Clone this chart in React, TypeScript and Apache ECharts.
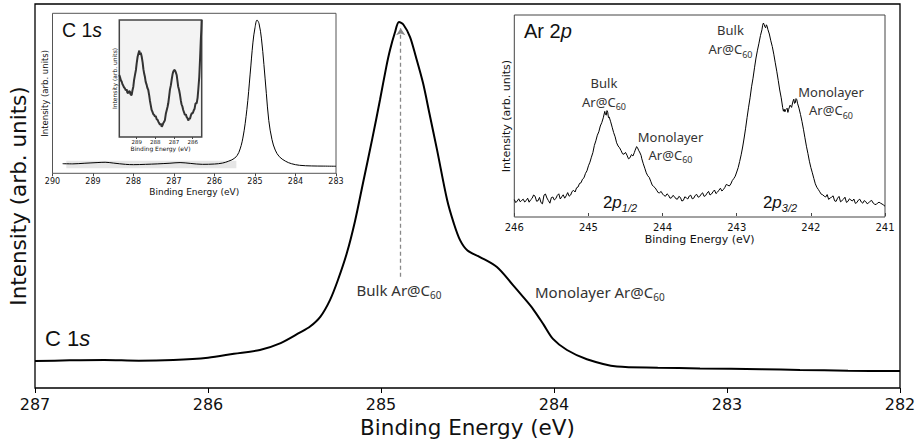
import React, { useEffect, useRef } from "react";
import * as echarts from "echarts";

// C 1s core level, main spectrum: [binding energy (eV), intensity]
const c1sMain: number[][] = [
  [287.0, 7.0], [286.8, 7.2], [286.6, 7.3], [286.4, 7.1], [286.2, 7.3],
  [286.0, 7.9], [285.85, 8.9], [285.7, 9.9], [285.58, 11.7], [285.47, 14.4],
  [285.41, 16.0], [285.35, 18.6], [285.295, 22.9], [285.25, 28.0], [285.197, 35.2],
  [285.15, 43.5], [285.104, 53.4], [285.05, 65.0], [285.006, 75.0], [284.97, 83.5],
  [284.948, 88.0], [284.92, 92.5], [284.896, 95.3], [284.87, 94.6], [284.832, 91.4],
  [284.8, 86.5], [284.757, 79.4], [284.72, 71.5], [284.676, 62.0], [284.618, 49.0],
  [284.58, 43.0], [284.543, 38.5], [284.5, 35.8], [284.428, 34.1], [284.33, 31.5],
  [284.237, 26.8], [284.18, 23.8], [284.12, 20.5], [284.06, 16.5], [284.006, 12.8],
  [283.925, 9.9], [283.81, 7.5], [283.636, 5.6], [283.4, 5.3], [283.156, 5.1],
  [282.8, 4.9], [282.578, 4.7], [282.3, 4.5], [282.0, 4.4],
];

// C 1s survey (upper-left panel)
const c1sSurvey: number[][] = [
  [289.75, 6.0], [289.5, 5.9], [289.2, 6.3], [288.9, 6.7], [288.7, 6.9],
  [288.5, 6.4], [288.2, 5.6], [288.0, 5.4], [287.7, 5.6], [287.4, 5.9],
  [287.1, 6.3], [286.85, 6.7], [286.6, 6.2], [286.3, 5.6], [286.0, 5.8],
  [285.8, 6.4], [285.65, 7.6], [285.5, 9.5], [285.4, 13.0], [285.3, 22.0],
  [285.2, 40.0], [285.12, 62.0], [285.05, 82.0], [285.0, 91.0], [284.95, 95.8],
  [284.9, 93.5], [284.84, 84.0], [284.78, 68.0], [284.72, 50.0], [284.66, 33.0],
  [284.58, 21.0], [284.5, 14.5], [284.4, 10.4], [284.25, 7.6], [284.1, 6.0],
  [283.9, 5.0], [283.6, 4.6], [283.3, 4.5], [283.0, 4.4],
];

// Shaded window of the survey that is enlarged in the detail panel
const detailWindow = { from: 289.66, to: 285.46, low: 3.1, high: 7.9 };

// C 1s detail, high binding energy side
const c1sDetail: number[][] = [
  [289.93, 53.0], [289.88, 50.5], [289.84, 48.2], [289.8, 47.3], [289.76, 45.1],
  [289.72, 44.0], [289.68, 42.5], [289.63, 41.6], [289.58, 39.8], [289.54, 40.9],
  [289.5, 38.1], [289.45, 37.4], [289.41, 39.2], [289.36, 38.7], [289.32, 36.0],
  [289.27, 35.9], [289.23, 39.5], [289.18, 43.0], [289.14, 48.6], [289.09, 53.1],
  [289.04, 57.3], [289.0, 63.0], [288.95, 68.6], [288.91, 71.2], [288.86, 73.8],
  [288.82, 70.4], [288.78, 72.1], [288.73, 68.6], [288.68, 63.5], [288.64, 58.0],
  [288.6, 54.2], [288.56, 51.5], [288.52, 47.3], [288.47, 44.8], [288.43, 42.1],
  [288.38, 40.2], [288.33, 35.6], [288.29, 31.0], [288.25, 27.4], [288.2, 23.1],
  [288.16, 21.6], [288.11, 19.5], [288.06, 18.8], [288.02, 17.4], [287.98, 17.9],
  [287.93, 15.2], [287.88, 14.6], [287.84, 13.1], [287.8, 12.0], [287.75, 10.4],
  [287.71, 11.5], [287.66, 8.8], [287.62, 9.9], [287.58, 11.7], [287.53, 13.0],
  [287.49, 14.5], [287.44, 19.8], [287.4, 22.4], [287.35, 25.6], [287.31, 28.8],
  [287.26, 35.1], [287.22, 40.5], [287.17, 44.3], [287.13, 48.7], [287.08, 53.6],
  [287.04, 55.9], [286.99, 57.3], [286.95, 57.0], [286.91, 55.4], [286.86, 53.0],
  [286.82, 48.1], [286.78, 43.2], [286.73, 40.2], [286.69, 36.8], [286.64, 31.5],
  [286.6, 28.0], [286.55, 25.9], [286.51, 23.1], [286.46, 20.9], [286.42, 18.8],
  [286.37, 19.5], [286.33, 17.2], [286.28, 16.0], [286.24, 14.1], [286.19, 16.0],
  [286.15, 15.3], [286.1, 18.4], [286.05, 20.3], [286.0, 20.3], [285.95, 22.6],
  [285.9, 24.2], [285.85, 28.8], [285.79, 28.8], [285.74, 33.5], [285.7, 41.0],
  [285.65, 51.5], [285.61, 66.0], [285.57, 82.0], [285.54, 91.5], [285.52, 100.0],
];

// Ar 2p core level (upper-right panel)
const ar2p: number[][] = [
  [246.0, 6.7], [245.98, 5.2], [245.96, 6.0], [245.94, 7.1], [245.92, 5.6],
  [245.9, 6.3], [245.88, 6.9], [245.86, 5.5], [245.84, 6.2], [245.82, 7.4],
  [245.8, 5.4], [245.78, 6.6], [245.76, 7.3], [245.74, 9.0], [245.72, 8.4],
  [245.7, 5.9], [245.68, 6.1], [245.66, 7.8], [245.64, 5.2], [245.62, 4.6],
  [245.6, 8.9], [245.58, 9.5], [245.56, 7.5], [245.54, 6.2], [245.52, 4.9],
  [245.5, 7.7], [245.48, 8.0], [245.46, 6.5], [245.44, 7.2], [245.42, 8.8],
  [245.4, 9.6], [245.38, 7.0], [245.36, 8.1], [245.34, 9.1], [245.32, 7.4],
  [245.3, 8.6], [245.28, 10.2], [245.26, 8.4], [245.24, 9.0], [245.22, 10.8],
  [245.2, 11.3], [245.18, 10.5], [245.16, 12.6], [245.14, 13.0], [245.12, 14.8],
  [245.1, 15.1], [245.08, 16.9], [245.06, 17.6], [245.04, 19.8], [245.02, 21.1],
  [245.0, 23.6], [244.98, 25.4], [244.96, 27.9], [244.94, 30.2], [244.92, 33.8],
  [244.9, 36.1], [244.88, 38.9], [244.86, 40.6], [244.84, 43.5], [244.82, 45.2],
  [244.8, 47.6], [244.78, 50.8], [244.77, 49.3], [244.76, 48.9], [244.75, 51.2],
  [244.74, 50.4], [244.73, 47.7], [244.72, 48.0], [244.7, 45.6], [244.68, 42.9],
  [244.66, 40.2], [244.64, 38.1], [244.62, 35.1], [244.6, 33.5], [244.58, 32.6],
  [244.56, 31.2], [244.54, 29.6], [244.52, 29.4], [244.5, 30.3], [244.48, 28.9],
  [244.46, 27.1], [244.44, 27.6], [244.42, 29.2], [244.4, 28.5], [244.38, 30.3],
  [244.37, 31.4], [244.35, 33.2], [244.34, 32.8], [244.32, 31.1], [244.31, 30.5],
  [244.29, 28.8], [244.28, 27.1], [244.26, 24.6], [244.24, 22.4], [244.22, 20.1],
  [244.2, 18.6], [244.18, 17.8], [244.16, 15.9], [244.14, 14.0], [244.12, 13.2],
  [244.1, 12.6], [244.08, 11.4], [244.06, 10.2], [244.04, 10.1], [244.02, 10.8],
  [244.0, 9.5], [243.98, 8.7], [243.96, 8.4], [243.94, 9.6], [243.92, 8.9],
  [243.9, 7.4], [243.88, 7.6], [243.86, 8.8], [243.84, 8.2], [243.82, 7.1],
  [243.8, 6.9], [243.78, 8.3], [243.76, 7.8], [243.74, 6.0], [243.72, 6.3],
  [243.7, 8.1], [243.68, 7.6], [243.66, 7.0], [243.64, 8.5], [243.62, 8.9],
  [243.6, 7.1], [243.58, 7.4], [243.56, 8.8], [243.54, 9.3], [243.52, 7.9],
  [243.5, 8.2], [243.48, 9.4], [243.46, 10.1], [243.44, 8.3], [243.42, 8.7],
  [243.4, 9.9], [243.38, 10.8], [243.36, 9.0], [243.34, 9.5], [243.32, 10.6],
  [243.3, 11.5], [243.28, 9.7], [243.26, 10.4], [243.24, 11.4], [243.22, 12.4],
  [243.2, 11.0], [243.18, 11.7], [243.16, 12.8], [243.14, 14.3], [243.12, 13.9],
  [243.1, 13.5], [243.08, 14.5], [243.06, 16.2], [243.04, 17.2], [243.02, 18.4],
  [243.0, 20.5], [242.98, 22.7], [242.96, 25.8], [242.94, 29.1], [242.92, 33.0],
  [242.9, 37.5], [242.88, 42.4], [242.86, 47.8], [242.84, 52.9], [242.82, 57.6],
  [242.8, 63.1], [242.78, 67.4], [242.76, 72.6], [242.74, 77.5], [242.72, 81.4],
  [242.7, 84.9], [242.68, 88.7], [242.66, 91.6], [242.65, 93.9], [242.64, 95.0],
  [242.63, 94.2], [242.62, 93.1], [242.61, 92.6], [242.6, 94.1], [242.59, 93.4],
  [242.58, 91.8], [242.56, 89.5], [242.54, 86.1], [242.52, 83.2], [242.5, 79.4],
  [242.48, 75.1], [242.46, 70.9], [242.44, 66.3], [242.42, 61.5], [242.4, 57.6],
  [242.38, 52.7], [242.37, 50.9], [242.36, 51.9], [242.35, 50.6], [242.34, 51.6],
  [242.32, 52.4], [242.31, 50.3], [242.3, 51.8], [242.28, 53.9], [242.26, 52.8],
  [242.25, 54.5], [242.24, 56.0], [242.23, 56.9], [242.22, 54.8], [242.21, 55.1],
  [242.2, 57.2], [242.19, 56.7], [242.18, 54.9], [242.16, 52.4], [242.14, 49.3],
  [242.12, 45.8], [242.1, 41.9], [242.08, 37.6], [242.06, 33.4], [242.04, 29.8],
  [242.02, 25.9], [242.0, 22.7], [241.98, 20.1], [241.96, 17.3], [241.94, 14.6],
  [241.92, 12.9], [241.9, 11.8], [241.88, 10.6], [241.86, 9.4], [241.84, 9.1],
  [241.82, 8.4], [241.8, 8.0], [241.78, 9.2], [241.76, 6.8], [241.74, 7.5],
  [241.72, 7.9], [241.7, 8.6], [241.68, 6.1], [241.66, 5.8], [241.64, 7.4],
  [241.62, 8.3], [241.6, 5.6], [241.58, 6.2], [241.56, 6.9], [241.54, 7.9],
  [241.52, 5.3], [241.5, 5.8], [241.48, 7.1], [241.46, 6.5], [241.44, 6.0],
  [241.42, 7.0], [241.4, 4.8], [241.38, 5.2], [241.36, 6.4], [241.34, 6.9],
  [241.32, 5.5], [241.3, 4.9], [241.28, 6.2], [241.26, 5.7], [241.24, 4.6],
  [241.22, 5.1], [241.2, 5.9], [241.18, 6.3], [241.16, 5.0], [241.14, 4.4],
  [241.12, 4.2], [241.1, 5.0], [241.08, 5.4], [241.06, 4.9], [241.04, 4.5],
  [241.02, 4.0], [241.0, 3.4],
];

// Bulk peak marker: arrow from label up to the C 1s maximum
const bulkPeakEnergy = 284.886;
const bulkArrow = { from: 29, to: 93.7 };

const detailTicks = [286, 287, 288, 289];

const AXIS_FONT = "DejaVu Sans";
const LABEL_FONT = "Noto Sans";
const TITLE_FONT = "Liberation Sans";

function xAxisFor(
  gridIndex: number,
  min: number,
  max: number,
  o: {
    interval?: number;
    labelSize: number;
    nameSize: number;
    nameGap: number;
    margin: number;
    tickLen: number;
    lineColor: string;
    custom?: number[];
  }
) {
  return {
    gridIndex,
    type: "value",
    inverse: true,
    min,
    max,
    interval: o.interval,
    axisLine: { show: false },
    axisTick: {
      show: true,
      length: o.tickLen,
      lineStyle: { color: o.lineColor, width: 1 },
      customValues: o.custom,
    },
    axisLabel: {
      show: true,
      fontFamily: AXIS_FONT,
      fontSize: o.labelSize,
      color: "#111",
      margin: o.margin,
      showMinLabel: true,
      showMaxLabel: true,
      hideOverlap: false,
      customValues: o.custom,
      formatter: (v: number) => String(Math.round(v)),
    },
    splitLine: { show: false },
    name: "Binding Energy (eV)",
    nameLocation: "middle",
    nameGap: o.nameGap,
    nameTextStyle: { fontFamily: AXIS_FONT, fontSize: o.nameSize, color: "#111" },
  };
}

function yAxisFor(gridIndex: number, min: number, max: number, nameSize: number, nameGap: number) {
  return {
    gridIndex,
    type: "value",
    min,
    max,
    axisLine: { show: false },
    axisTick: { show: false },
    axisLabel: { show: false },
    splitLine: { show: false },
    name: "Intensity (arb. units)",
    nameLocation: "middle",
    nameGap,
    nameTextStyle: { fontFamily: AXIS_FONT, fontSize: nameSize, color: "#111" },
  };
}

function sub(main: string, s: string) {
  return `{a|${main}}{s|${s}}`;
}

function richLabel(size: number, subSize: number, lh: number) {
  return {
    a: { fontFamily: LABEL_FONT, fontSize: size, fill: "#333", lineHeight: lh },
    s: { fontFamily: LABEL_FONT, fontSize: subSize, fill: "#333", lineHeight: lh, verticalAlign: "bottom" },
  };
}

function orbital(n: string, l: string, j: string) {
  const base = { fontFamily: TITLE_FONT, fontSize: 17, fill: "#111", lineHeight: 22 };
  return {
    text: `{n|${n}}{i|${l}}{s|${j}}`,
    align: "center",
    verticalAlign: "middle",
    rich: {
      n: base,
      i: { ...base, fontStyle: "italic" },
      s: { ...base, fontSize: 11, fontStyle: "italic", verticalAlign: "bottom" },
    },
  };
}

function levelTitle(n: string, l: string, size: number) {
  const base = { fontFamily: TITLE_FONT, fontSize: size, fill: "#111" };
  return { text: `{n|${n}}{i|${l}}`, rich: { n: base, i: { ...base, fontStyle: "italic" } } };
}

export default function App() {
  const ref = useRef<HTMLDivElement>(null);

  useEffect(() => {
    if (!ref.current) return;
    const chart = echarts.init(ref.current, null, { renderer: "svg" });

    const option: any = {
      animation: false,
      backgroundColor: "#fff",
      grid: [
        { left: 35, top: 4, width: 865, height: 384, show: true, borderColor: "#000", borderWidth: 1.3, backgroundColor: "transparent", outerBoundsMode: "none" },
        { left: 52.5, top: 13.3, width: 283.5, height: 160, show: true, borderColor: "#555", borderWidth: 1, backgroundColor: "#fff", outerBoundsMode: "none" },
        { left: 119.3, top: 20, width: 82.4, height: 117, show: true, borderColor: "#444", borderWidth: 1.5, backgroundColor: "#f3f3f3", outerBoundsMode: "none" },
        { left: 514.3, top: 15, width: 370.7, height: 202, show: true, borderColor: "#444", borderWidth: 1, backgroundColor: "#fff", outerBoundsMode: "none" },
      ],
      xAxis: [
        xAxisFor(0, 282, 287, { interval: 1, labelSize: 16, nameSize: 21.5, nameGap: 25, margin: 8, tickLen: 5, lineColor: "#000" }),
        xAxisFor(1, 283, 290, { interval: 1, labelSize: 8, nameSize: 9, nameGap: 14, margin: 4, tickLen: 3, lineColor: "#444" }),
        xAxisFor(2, 285.52, 289.93, { labelSize: 5.5, nameSize: 6, nameGap: 8, margin: 2, tickLen: 2, lineColor: "#444", custom: detailTicks }),
        xAxisFor(3, 241, 246, { interval: 1, labelSize: 10, nameSize: 11, nameGap: 17, margin: 5, tickLen: 3, lineColor: "#444" }),
      ],
      yAxis: [
        yAxisFor(0, 0, 100, 21.5, 6),
        yAxisFor(1, 0, 100, 8.5, 3),
        yAxisFor(2, 0, 100, 6, 2),
        yAxisFor(3, -2, 99, 11, 2),
      ],
      series: [
        {
          type: "line",
          xAxisIndex: 0,
          yAxisIndex: 0,
          data: c1sMain,
          showSymbol: false,
          smooth: 0.3,
          silent: true,
          lineStyle: { color: "#000", width: 2 },
          markLine: {
            silent: true,
            symbol: ["none", "arrow"],
            symbolSize: 7,
            label: { show: false },
            lineStyle: { color: "#888", width: 1.3, type: [4, 3] },
            data: [[{ coord: [bulkPeakEnergy, bulkArrow.from] }, { coord: [bulkPeakEnergy, bulkArrow.to] }]],
          },
        },
        {
          type: "line",
          xAxisIndex: 1,
          yAxisIndex: 1,
          data: c1sSurvey,
          showSymbol: false,
          smooth: 0.35,
          silent: true,
          lineStyle: { color: "#000", width: 1 },
          markArea: {
            silent: true,
            itemStyle: { color: "#e6e6e6" },
            data: [[{ coord: [detailWindow.from, detailWindow.low] }, { coord: [detailWindow.to, detailWindow.high] }]],
          },
        },
        {
          type: "line",
          xAxisIndex: 2,
          yAxisIndex: 2,
          data: c1sDetail,
          showSymbol: false,
          silent: true,
          lineStyle: { color: "#333", width: 2 },
        },
        {
          type: "line",
          xAxisIndex: 3,
          yAxisIndex: 3,
          data: ar2p,
          showSymbol: false,
          silent: true,
          lineStyle: { color: "#000", width: 1 },
        },
      ],
      graphic: [
        // main panel annotations
        { type: "text", left: 45, top: 327, silent: true, style: levelTitle("C 1", "s", 22) },
        {
          type: "text", x: 399, y: 290, silent: true,
          style: { text: sub("Bulk Ar@C", "60"), align: "center", verticalAlign: "middle", rich: richLabel(15, 10, 20) },
        },
        {
          type: "text", x: 535, y: 292, silent: true,
          style: { text: sub("Monolayer Ar@C", "60"), align: "left", verticalAlign: "middle", rich: richLabel(15, 10, 20) },
        },
        // survey panel title
        { type: "text", left: 62, top: 20, silent: true, style: levelTitle("C 1", "s", 19.5) },
        // Ar 2p panel title and peak labels
        { type: "text", left: 524, top: 21, silent: true, style: levelTitle("Ar 2", "p", 20) },
        {
          type: "text", x: 604, y: 92.5, silent: true,
          style: { text: "{a|Bulk}\n" + sub("Ar@C", "60"), align: "center", verticalAlign: "middle", rich: richLabel(13, 9, 18.5) },
        },
        {
          type: "text", x: 670.5, y: 145.5, silent: true,
          style: { text: "{a|Monolayer}\n" + sub("Ar@C", "60"), align: "center", verticalAlign: "middle", rich: richLabel(13, 9, 18) },
        },
        {
          type: "text", x: 730.5, y: 39.7, silent: true,
          style: { text: "{a|Bulk}\n" + sub("Ar@C", "60"), align: "center", verticalAlign: "middle", rich: richLabel(13, 9, 19) },
        },
        {
          type: "text", x: 831, y: 101, silent: true,
          style: { text: "{a|Monolayer}\n" + sub("Ar@C", "60"), align: "center", verticalAlign: "middle", rich: richLabel(13, 9, 18.5) },
        },
        { type: "text", x: 620, y: 202, silent: true, style: orbital("2", "p", "1/2") },
        { type: "text", x: 780, y: 202, silent: true, style: orbital("2", "p", "3/2") },
      ],
    };

    chart.setOption(option);
    return () => chart.dispose();
  }, []);

  return (
    <div
      ref={ref}
      style={{ position: "absolute", left: 0, top: 0, width: 917, height: 440, background: "#fff" }}
    />
  );
}
